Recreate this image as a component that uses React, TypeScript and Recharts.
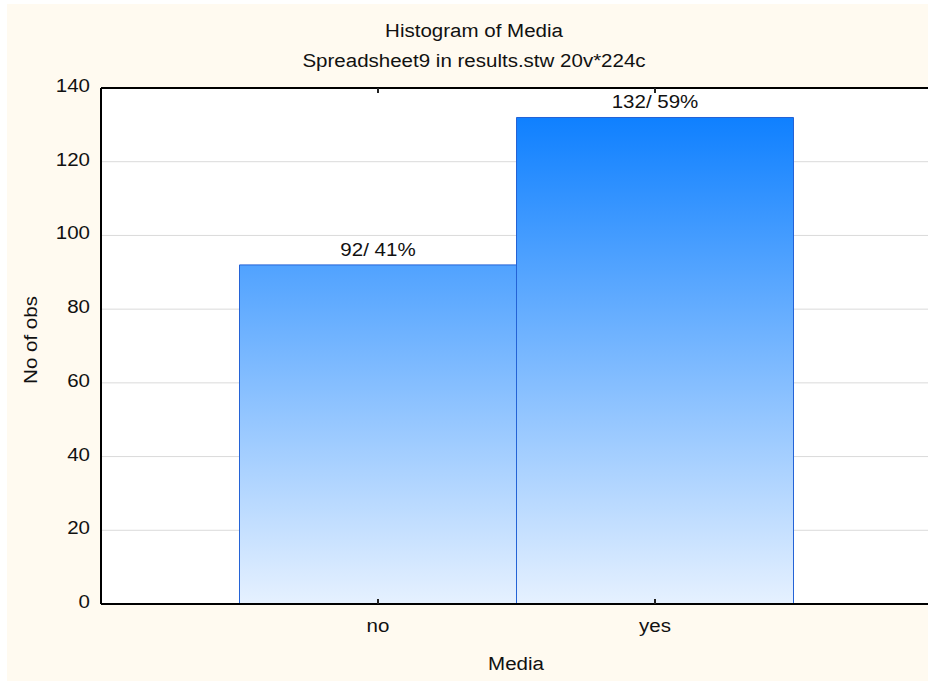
import React from 'react';
import { BarChart, Bar, XAxis, YAxis, CartesianGrid, LabelList, Label } from 'recharts';

const categories = ['no', 'yes'];
const counts = [92, 132];
const yTicks = [0, 20, 40, 60, 80, 100, 120, 140];

const title = 'Histogram of Media';
const subtitle = 'Spreadsheet9 in results.stw 20v*224c';
const xTitle = 'Media';
const yTitle = 'No of obs';

const total = counts.reduce((a, b) => a + b, 0);
const data = categories.map((name, i) => ({
  name,
  count: counts[i],
  pct: Math.round((counts[i] / total) * 100),
}));

const FONT = '"Liberation Sans", Arial, Helvetica, sans-serif';
const FONT_SIZE = 19;
const STRETCH = 1.08;

// text widened along its own direction, like the old Statistica renderer
function WideText({ x, y, anchor = 'middle', angle = 0, children }: any) {
  return (
    <text
      transform={`translate(${x},${y}) rotate(${angle}) scale(${STRETCH},1)`}
      textAnchor={anchor}
      fontSize={FONT_SIZE}
      fontFamily={FONT}
      fill="#111"
    >
      {children}
    </text>
  );
}

const LeftTick = ({ x, y, payload }: any) => (
  <WideText x={x} y={y + 4} anchor="end">{payload.value}</WideText>
);

const RightTick = ({ x, y }: any) => (
  <line x1={x - 5} x2={x} y1={y} y2={y} stroke="#444" strokeWidth={2} />
);

const BottomTick = ({ x, y, payload }: any) => (
  <g>
    <line x1={x} x2={x} y1={y - 5} y2={y} stroke="#222" strokeWidth={2} />
    <WideText x={x} y={y + 28}>{payload.value}</WideText>
  </g>
);

const TopTick = ({ x, y }: any) => (
  <line x1={x} x2={x} y1={y} y2={y + 5} stroke="#222" strokeWidth={2} />
);

const BarTopLabel = ({ x, y, width, index }: any) => (
  <WideText x={x + width / 2} y={y - 9}>
    {`${data[index].count}/ ${data[index].pct}%`}
  </WideText>
);

export default function App() {
  return (
    <div style={{ position: 'absolute', left: 0, top: 0, width: 928, height: 682, overflow: 'hidden', background: '#fff' }}>
      <div style={{ position: 'absolute', left: 7, top: 4, width: 921, height: 677, background: '#FFFAF0' }} />
      <svg width={928} height={88} style={{ position: 'absolute', left: 0, top: 0 }}>
        <WideText x={474} y={37}>{title}</WideText>
        <WideText x={474} y={67}>{subtitle}</WideText>
      </svg>
      <div style={{ position: 'absolute', left: 0, top: 0 }}>
        <BarChart
          width={934}
          height={682}
          data={data}
          margin={{ top: 87, right: 0, bottom: 0, left: 0 }}
          barCategoryGap={0}
          barGap={0}
        >
          <defs>
            <linearGradient id="barFill" gradientUnits="userSpaceOnUse" x1={0} y1={117} x2={0} y2={604}>
              <stop offset="0%" stopColor="#0F80FF" />
              <stop offset="100%" stopColor="#E6F1FF" />
            </linearGradient>
          </defs>
          <CartesianGrid vertical={false} stroke="#DADADA" fill="#ffffff" />
          <XAxis
            dataKey="name"
            height={78}
            padding={{ left: 138.5, right: 138.5 }}
            axisLine={{ stroke: '#000', strokeWidth: 2 }}
            tickLine={false}
            tickSize={0}
            tickMargin={0}
            tick={BottomTick}
            interval={0}
          >
            <Label
              content={() => <WideText x={516} y={670}>{xTitle}</WideText>}
            />
          </XAxis>
          <XAxis
            xAxisId="top"
            orientation="top"
            dataKey="name"
            height={1}
            padding={{ left: 138.5, right: 138.5 }}
            axisLine={{ stroke: '#000', strokeWidth: 2 }}
            tickLine={false}
            tickSize={0}
            tickMargin={0}
            tick={TopTick}
            interval={0}
          />
          <YAxis
            width={101}
            domain={[0, 140]}
            ticks={yTicks}
            axisLine={{ stroke: '#000', strokeWidth: 2 }}
            tickLine={false}
            tickSize={0}
            tickMargin={11}
            tick={LeftTick}
            interval={0}
          >
            <Label
              content={() => <WideText x={37} y={340} angle={-90}>{yTitle}</WideText>}
            />
          </YAxis>
          <YAxis
            yAxisId="right"
            orientation="right"
            width={2}
            domain={[0, 140]}
            ticks={yTicks}
            axisLine={{ stroke: '#000', strokeWidth: 2 }}
            tickLine={false}
            tickSize={0}
            tickMargin={0}
            tick={RightTick}
            interval={0}
          />
          <Bar
            dataKey="count"
            fill="url(#barFill)"
            stroke="#2463D6"
            strokeWidth={1}
            isAnimationActive={false}
          >
            <LabelList dataKey="count" content={BarTopLabel} />
          </Bar>
        </BarChart>
      </div>
    </div>
  );
}
